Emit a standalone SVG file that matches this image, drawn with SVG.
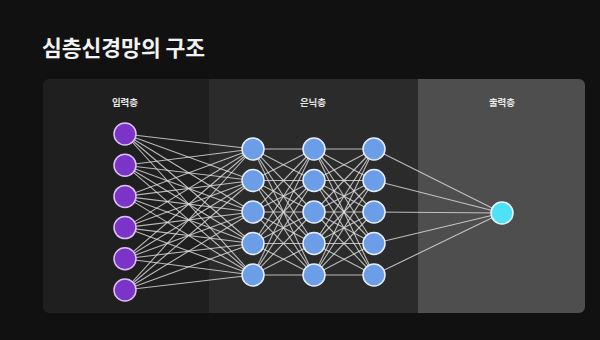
<svg xmlns="http://www.w3.org/2000/svg" width="600" height="340" viewBox="0 0 600 340">
  <defs>
    <clipPath id="panelClip">
      <rect x="43" y="79" width="542" height="234" rx="6"/>
    </clipPath>
  </defs>
  <style>
    .title { font-family: "Noto Sans CJK KR", "Noto Sans", sans-serif; font-weight: 700; font-size: 21.5px; fill: #f2f2f2; }
    .layer-label { font-family: "Noto Sans CJK KR", "Noto Sans", sans-serif; font-weight: 700; font-size: 9.5px; fill: #e8e8e8; text-anchor: middle; }
    .edge { stroke: #e0e0e0; stroke-opacity: 0.8; stroke-width: 1.1; }
    .in { fill: #7b33c8; stroke: #dcc2f2; stroke-width: 1.5; }
    .hid { fill: #6c9ee8; stroke: #e6eefc; stroke-width: 1.5; }
    .out { fill: #4fe2f6; stroke: #e8fbfe; stroke-width: 1.5; }
  </style>

  <!-- page background -->
  <rect x="0" y="0" width="600" height="340" fill="#111111"/>

  <text class="title" x="42" y="56">심층신경망의 구조</text>

  <!-- layer panels -->
  <g clip-path="url(#panelClip)">
    <rect x="43" y="79" width="166" height="234" fill="#1f1f1f"/>
    <rect x="209" y="79" width="209" height="234" fill="#2b2b2b"/>
    <rect x="418" y="79" width="167" height="234" fill="#4e4e4e"/>
  </g>

  <text class="layer-label" x="125" y="106">입력층</text>
  <text class="layer-label" x="313" y="106">은닉층</text>
  <text class="layer-label" x="502" y="106">출력층</text>

  <!-- connectors -->
  <g id="connectors" class="edge">
    <!-- input -> hidden 1 -->
    <line x1="125" y1="134" x2="253" y2="149"/><line x1="125" y1="134" x2="253" y2="180.5"/><line x1="125" y1="134" x2="253" y2="212"/><line x1="125" y1="134" x2="253" y2="243.5"/><line x1="125" y1="134" x2="253" y2="275"/>
    <line x1="125" y1="165.2" x2="253" y2="149"/><line x1="125" y1="165.2" x2="253" y2="180.5"/><line x1="125" y1="165.2" x2="253" y2="212"/><line x1="125" y1="165.2" x2="253" y2="243.5"/><line x1="125" y1="165.2" x2="253" y2="275"/>
    <line x1="125" y1="196.4" x2="253" y2="149"/><line x1="125" y1="196.4" x2="253" y2="180.5"/><line x1="125" y1="196.4" x2="253" y2="212"/><line x1="125" y1="196.4" x2="253" y2="243.5"/><line x1="125" y1="196.4" x2="253" y2="275"/>
    <line x1="125" y1="227.6" x2="253" y2="149"/><line x1="125" y1="227.6" x2="253" y2="180.5"/><line x1="125" y1="227.6" x2="253" y2="212"/><line x1="125" y1="227.6" x2="253" y2="243.5"/><line x1="125" y1="227.6" x2="253" y2="275"/>
    <line x1="125" y1="258.8" x2="253" y2="149"/><line x1="125" y1="258.8" x2="253" y2="180.5"/><line x1="125" y1="258.8" x2="253" y2="212"/><line x1="125" y1="258.8" x2="253" y2="243.5"/><line x1="125" y1="258.8" x2="253" y2="275"/>
    <line x1="125" y1="290" x2="253" y2="149"/><line x1="125" y1="290" x2="253" y2="180.5"/><line x1="125" y1="290" x2="253" y2="212"/><line x1="125" y1="290" x2="253" y2="243.5"/><line x1="125" y1="290" x2="253" y2="275"/>
    <!-- hidden 1 -> hidden 2 -->
    <line x1="253" y1="149" x2="314" y2="149"/><line x1="253" y1="149" x2="314" y2="180.5"/><line x1="253" y1="149" x2="314" y2="212"/><line x1="253" y1="149" x2="314" y2="243.5"/><line x1="253" y1="149" x2="314" y2="275"/>
    <line x1="253" y1="180.5" x2="314" y2="149"/><line x1="253" y1="180.5" x2="314" y2="180.5"/><line x1="253" y1="180.5" x2="314" y2="212"/><line x1="253" y1="180.5" x2="314" y2="243.5"/><line x1="253" y1="180.5" x2="314" y2="275"/>
    <line x1="253" y1="212" x2="314" y2="149"/><line x1="253" y1="212" x2="314" y2="180.5"/><line x1="253" y1="212" x2="314" y2="212"/><line x1="253" y1="212" x2="314" y2="243.5"/><line x1="253" y1="212" x2="314" y2="275"/>
    <line x1="253" y1="243.5" x2="314" y2="149"/><line x1="253" y1="243.5" x2="314" y2="180.5"/><line x1="253" y1="243.5" x2="314" y2="212"/><line x1="253" y1="243.5" x2="314" y2="243.5"/><line x1="253" y1="243.5" x2="314" y2="275"/>
    <line x1="253" y1="275" x2="314" y2="149"/><line x1="253" y1="275" x2="314" y2="180.5"/><line x1="253" y1="275" x2="314" y2="212"/><line x1="253" y1="275" x2="314" y2="243.5"/><line x1="253" y1="275" x2="314" y2="275"/>
    <!-- hidden 2 -> hidden 3 -->
    <line x1="314" y1="149" x2="374" y2="149"/><line x1="314" y1="149" x2="374" y2="180.5"/><line x1="314" y1="149" x2="374" y2="212"/><line x1="314" y1="149" x2="374" y2="243.5"/><line x1="314" y1="149" x2="374" y2="275"/>
    <line x1="314" y1="180.5" x2="374" y2="149"/><line x1="314" y1="180.5" x2="374" y2="180.5"/><line x1="314" y1="180.5" x2="374" y2="212"/><line x1="314" y1="180.5" x2="374" y2="243.5"/><line x1="314" y1="180.5" x2="374" y2="275"/>
    <line x1="314" y1="212" x2="374" y2="149"/><line x1="314" y1="212" x2="374" y2="180.5"/><line x1="314" y1="212" x2="374" y2="212"/><line x1="314" y1="212" x2="374" y2="243.5"/><line x1="314" y1="212" x2="374" y2="275"/>
    <line x1="314" y1="243.5" x2="374" y2="149"/><line x1="314" y1="243.5" x2="374" y2="180.5"/><line x1="314" y1="243.5" x2="374" y2="212"/><line x1="314" y1="243.5" x2="374" y2="243.5"/><line x1="314" y1="243.5" x2="374" y2="275"/>
    <line x1="314" y1="275" x2="374" y2="149"/><line x1="314" y1="275" x2="374" y2="180.5"/><line x1="314" y1="275" x2="374" y2="212"/><line x1="314" y1="275" x2="374" y2="243.5"/><line x1="314" y1="275" x2="374" y2="275"/>
    <!-- hidden 3 -> output -->
    <line x1="374" y1="149" x2="502" y2="213"/><line x1="374" y1="180.5" x2="502" y2="213"/><line x1="374" y1="212" x2="502" y2="213"/><line x1="374" y1="243.5" x2="502" y2="213"/><line x1="374" y1="275" x2="502" y2="213"/>
  </g>

  <!-- input layer -->
  <g id="input-layer">
    <g id="in1"><circle class="in" cx="125" cy="134" r="11"/></g>
    <g id="in2"><circle class="in" cx="125" cy="165.2" r="11"/></g>
    <g id="in3"><circle class="in" cx="125" cy="196.4" r="11"/></g>
    <g id="in4"><circle class="in" cx="125" cy="227.6" r="11"/></g>
    <g id="in5"><circle class="in" cx="125" cy="258.8" r="11"/></g>
    <g id="in6"><circle class="in" cx="125" cy="290" r="11"/></g>
  </g>

  <!-- hidden layers -->
  <g id="hidden-layer-1">
    <g id="h1n1"><circle class="hid" cx="253" cy="149" r="11"/></g>
    <g id="h1n2"><circle class="hid" cx="253" cy="180.5" r="11"/></g>
    <g id="h1n3"><circle class="hid" cx="253" cy="212" r="11"/></g>
    <g id="h1n4"><circle class="hid" cx="253" cy="243.5" r="11"/></g>
    <g id="h1n5"><circle class="hid" cx="253" cy="275" r="11"/></g>
  </g>
  <g id="hidden-layer-2">
    <g id="h2n1"><circle class="hid" cx="314" cy="149" r="11"/></g>
    <g id="h2n2"><circle class="hid" cx="314" cy="180.5" r="11"/></g>
    <g id="h2n3"><circle class="hid" cx="314" cy="212" r="11"/></g>
    <g id="h2n4"><circle class="hid" cx="314" cy="243.5" r="11"/></g>
    <g id="h2n5"><circle class="hid" cx="314" cy="275" r="11"/></g>
  </g>
  <g id="hidden-layer-3">
    <g id="h3n1"><circle class="hid" cx="374" cy="149" r="11"/></g>
    <g id="h3n2"><circle class="hid" cx="374" cy="180.5" r="11"/></g>
    <g id="h3n3"><circle class="hid" cx="374" cy="212" r="11"/></g>
    <g id="h3n4"><circle class="hid" cx="374" cy="243.5" r="11"/></g>
    <g id="h3n5"><circle class="hid" cx="374" cy="275" r="11"/></g>
  </g>

  <!-- output layer -->
  <g id="output-layer">
    <g id="out1"><circle class="out" cx="502" cy="213" r="11"/></g>
  </g>
</svg>
